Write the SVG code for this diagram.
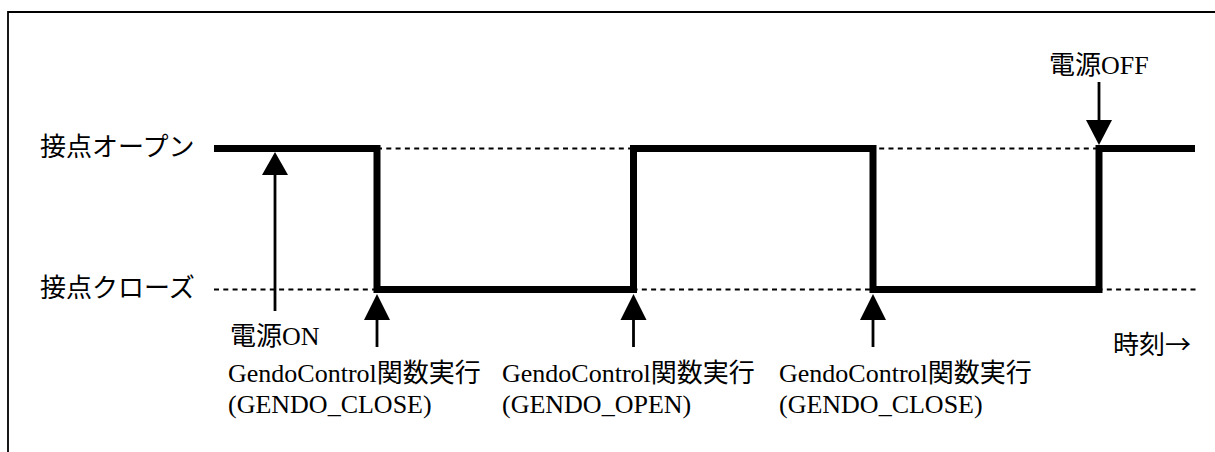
<svg xmlns="http://www.w3.org/2000/svg" width="1215" height="452" viewBox="0 0 1215 452">
<style>
text{font-family:"Liberation Serif","Noto Sans CJK JP",serif;font-size:26px;fill:#000}
.cjk{font-family:"Noto Sans CJK JP",sans-serif}
.dash{stroke:#000;stroke-width:2.1;stroke-dasharray:5 4.3;fill:none}
.sig{stroke:#000;stroke-width:7;fill:none;stroke-linejoin:miter;stroke-linecap:butt}
.arr{stroke:#000;stroke-width:2.8;fill:none}
.head{fill:#000}
.frame{stroke:#000;stroke-width:1.8;fill:none}
</style>
<g id="frame"><path class="frame" d="M8,452 V12 H1215"/></g>
<g id="labels">
<text x="40" y="156">接点オープン</text>
<text x="40" y="297">接点クローズ</text>
<text x="1113" y="354">時刻<tspan class="cjk">→</tspan></text>
</g>
<g id="signal">
<path class="dash" d="M377,148.5 H1099"/>
<path class="dash" d="M214,289.5 H1197"/>
<path class="sig" d="M214,148.5 H377 V289.5 H633.5 V148.5 H873 V289.5 H1099 V148.5 H1195"/>
</g>
<g id="connectors">
<line class="arr" x1="275" y1="311" x2="275" y2="172"/>
<polygon class="head" points="275,152 262,175 288,175"/>
<line class="arr" x1="377" y1="347" x2="377" y2="318"/>
<polygon class="head" points="377,294 364,320 390,320"/>
<line class="arr" x1="633.5" y1="347" x2="633.5" y2="318"/>
<polygon class="head" points="633.5,294 620.5,320 646.5,320"/>
<line class="arr" x1="873" y1="347" x2="873" y2="318"/>
<polygon class="head" points="873,294 860,320 886,320"/>
<line class="arr" x1="1099" y1="82" x2="1099" y2="122"/>
<polygon class="head" points="1099,145 1086,120 1112,120"/>
</g>
<g id="power-on"><text x="230" y="345">電源ON</text></g>
<g id="power-off"><text x="1049" y="74">電源OFF</text></g>
<g id="call-close-1">
<text x="228" y="382">GendoControl関数実行</text>
<text x="228" y="413">(GENDO_CLOSE)</text>
</g>
<g id="call-open">
<text x="502" y="382">GendoControl関数実行</text>
<text x="502" y="413">(GENDO_OPEN)</text>
</g>
<g id="call-close-2">
<text x="779" y="382">GendoControl関数実行</text>
<text x="779" y="413">(GENDO_CLOSE)</text>
</g>
</svg>
